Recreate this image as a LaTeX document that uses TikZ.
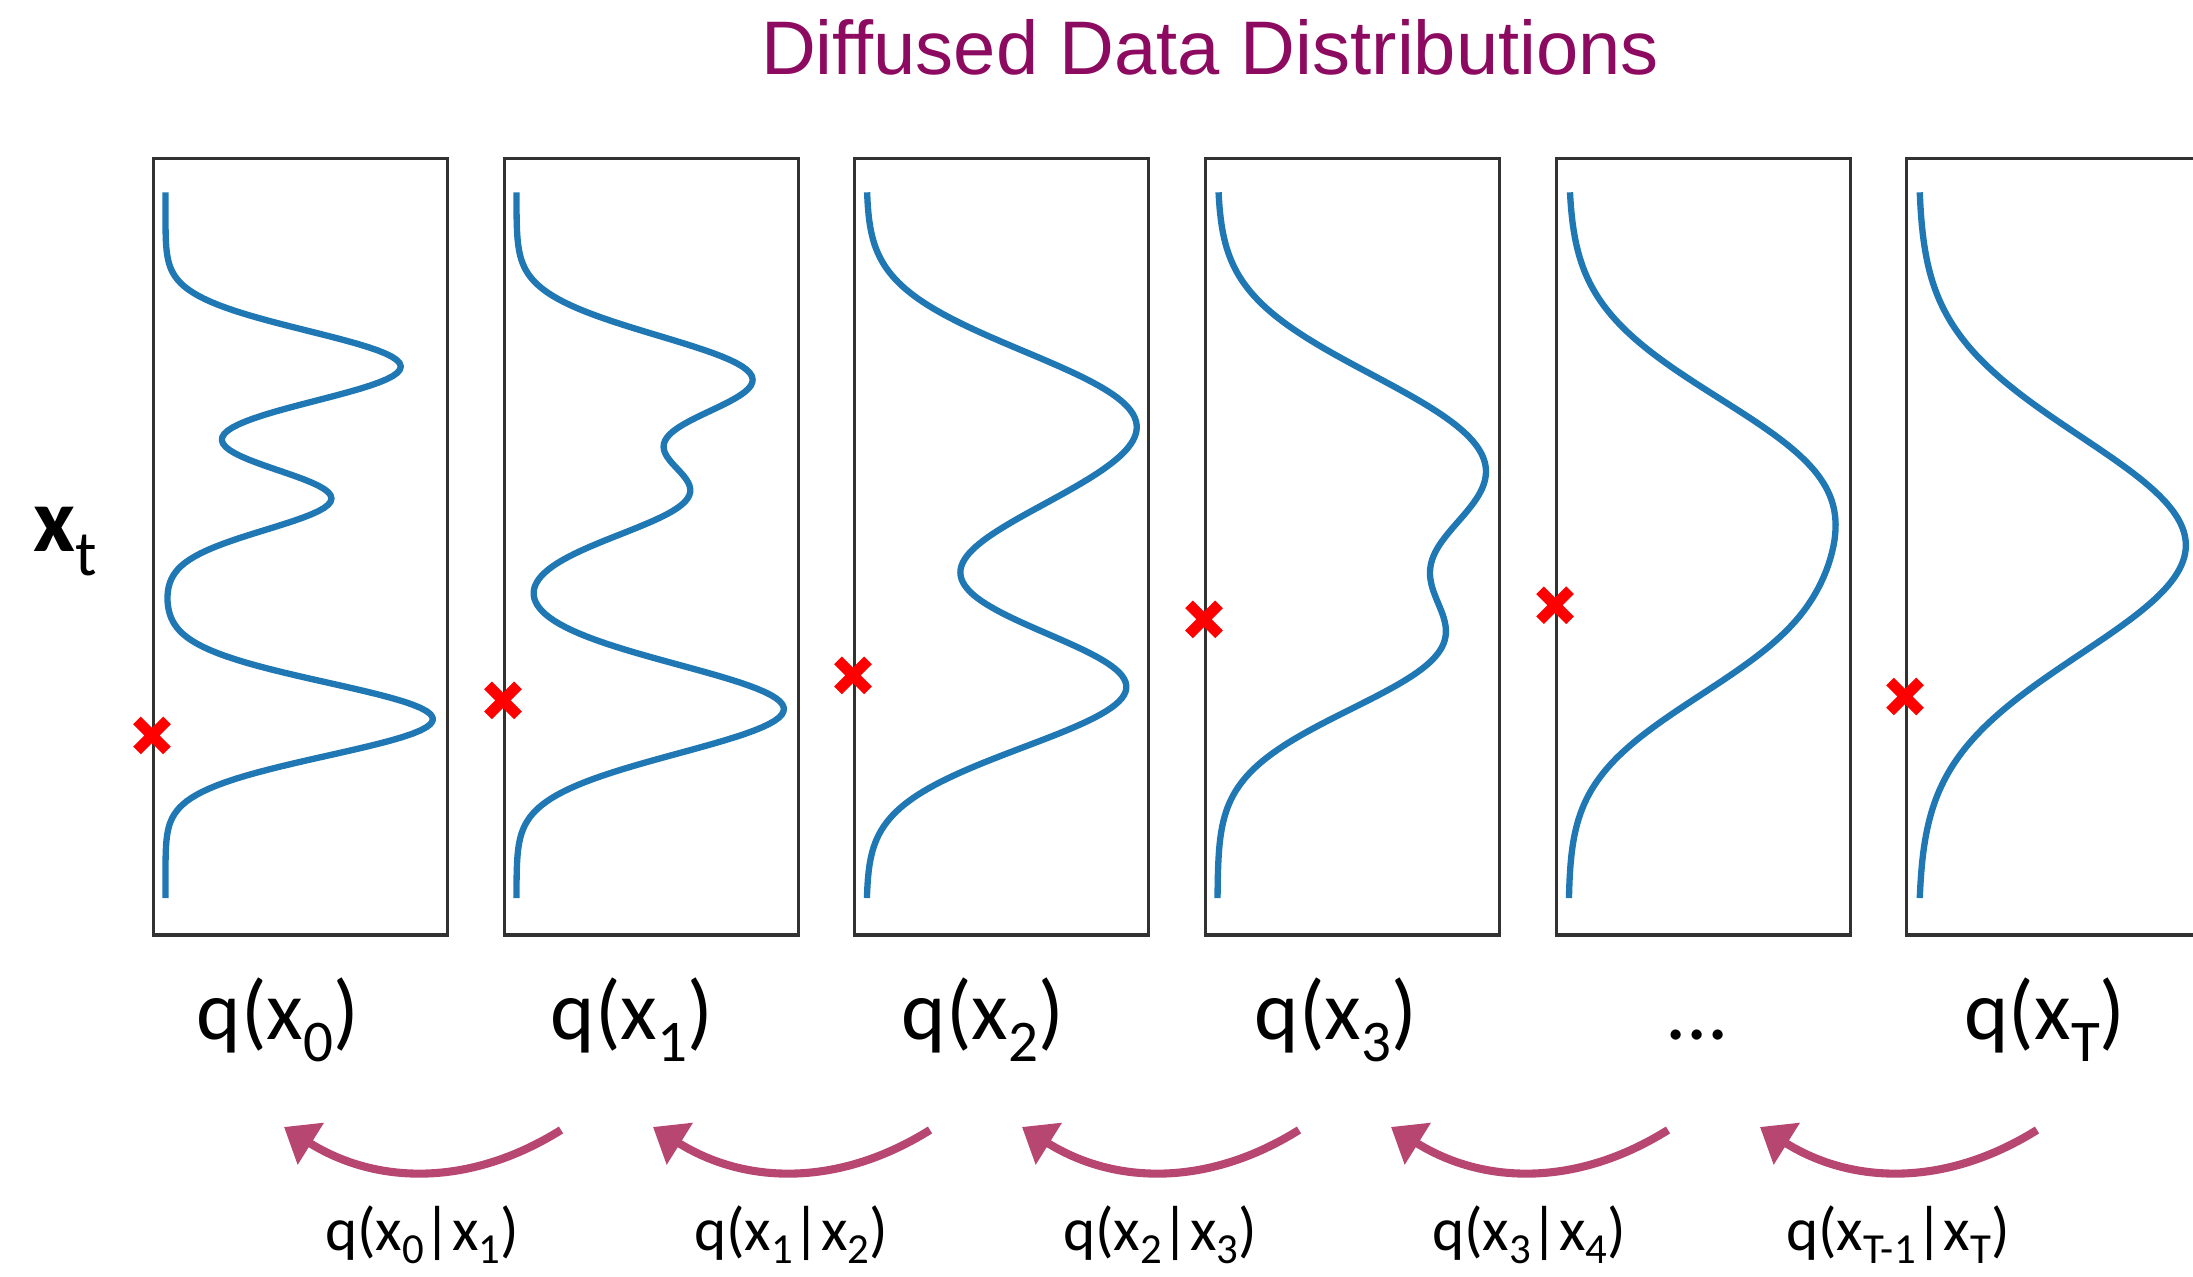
\documentclass[tikz,border=0pt]{standalone}
\usepackage{fontspec}
\setmainfont{Carlito}
\newfontfamily\titlefont{Liberation Sans}
\usepackage{graphicx}
\usetikzlibrary{arrows.meta, positioning, calc}

\definecolor{curveblue}{HTML}{1F77B4}
\definecolor{titlepurple}{RGB}{140,10,95}
\definecolor{arrowpink}{RGB}{183,70,113}
\definecolor{boxgray}{RGB}{50,50,50}

\newcommand{\lsub}[1]{\raisebox{-0.26em}{\scalebox{0.7}{#1}}}
\newcommand{\csub}[1]{\raisebox{-0.2em}{\scalebox{0.7}{#1}}}

\begin{document}
\begin{tikzpicture}[x=0.01cm, y=-0.01cm,
    panel/.style={draw=boxgray, line width=0.9pt, minimum width=2.94cm, minimum height=7.76cm,
        inner sep=0pt, anchor=north west},
    inpanel/.style={shift={(#1.north west)}, x=2.94cm, y=-7.76cm},
    density/.style={curveblue, line width=1.8pt, line join=round},
    redx/.style={red, line width=3.1pt},
    dist/.style={font=\fontsize{24}{28}\selectfont, anchor=base, inner sep=0pt},
    cond/.style={font=\fontsize{17.4}{20}\selectfont, anchor=base, inner sep=0pt},
    back/.style={arrowpink, line width=2.3pt, -{Triangle[length=9pt, width=13.5pt]}},
    declare function={gs(\t,\m,\s)=exp(-min(9,0.5*((\t-\m)/\s)*((\t-\m)/\s)));}]
    \useasboundingbox (0,0) rectangle (2193,1277);
    \clip (0,0) rectangle (2193,1277);

    % title
    \node[font=\titlefont\fontsize{21.6}{26}\selectfont, text=titlepurple, anchor=base] (title)
        at (1210,75) {Diffused Data Distributions};
    \node[font=\fontsize{26}{30}\selectfont, anchor=base west, inner sep=0pt] (xt) at (33,552)
        {\textbf{x}\lsub{t}};

    % panels
    \foreach \i/\xl in {0/152, 1/503, 2/853, 3/1204, 4/1555, 5/1905}
        \node[panel] (p\i) at (\xl,157) {};

    % densities
    \begin{scope}[inpanel=p0]
        \draw[density] plot[domain=0.0455:0.9545, samples=220, variable=\t]
            ({0.0455+0.909*(0.88*gs(\t,0.27,0.046)+0.62*gs(\t,0.44,0.04)+gs(\t,0.724,0.047))}, \t);
    \end{scope}
    \begin{scope}[inpanel=p1]
        \draw[density] plot[domain=0.0455:0.9545, samples=220, variable=\t]
            ({0.0455+0.909*(0.873*gs(\t,0.285,0.055)+0.626*gs(\t,0.435,0.052)+gs(\t,0.711,0.057))}, \t);
    \end{scope}
    \begin{scope}[inpanel=p2]
        \draw[density] plot[domain=0.0455:0.9545, samples=220, variable=\t]
            ({0.0455+0.909*(0.87*gs(\t,0.325,0.082)+0.37*gs(\t,0.44,0.075)+0.97*gs(\t,0.683,0.077))}, \t);
    \end{scope}
    \begin{scope}[inpanel=p3]
        \draw[density] plot[domain=0.0455:0.9545, samples=220, variable=\t]
            ({0.0455+0.909*(0.85*gs(\t,0.37,0.1)+0.244*gs(\t,0.46,0.07)+0.8*gs(\t,0.628,0.085))}, \t);
    \end{scope}
    \begin{scope}[inpanel=p4]
        \draw[density] plot[domain=0.0455:0.9545, samples=220, variable=\t]
            ({0.0455+0.909*(0.88*gs(\t,0.425,0.12)+0.55*gs(\t,0.62,0.1))}, \t);
    \end{scope}
    \begin{scope}[inpanel=p5]
        \draw[density] plot[domain=0.0455:0.9545, samples=220, variable=\t]
            ({0.0455+0.909*gs(\t,0.5,0.14)}, \t);
    \end{scope}

    % samples on the x_t axis
    \foreach \i/\ty in {0/0.742, 1/0.697, 2/0.665, 3/0.593, 4/0.575, 5/0.692} {
        \coordinate (x\i) at ($(p\i.north west)!\ty!(p\i.south west)$);
        \draw[redx] ([shift={(-15,-15)}]x\i) -- ([shift={(15,15)}]x\i)
                    ([shift={(-15,15)}]x\i) -- ([shift={(15,-15)}]x\i);
    }

    % marginals
    \foreach \i/\xc/\txt in {0/278/{q(x\lsub{0})}, 1/632/{q(x\lsub{1})}, 2/983/{q(x\lsub{2})},
                             3/1336/{q(x\lsub{3})}, 4/1697/{...}, 5/2045/{q(x\lsub{T})}}
        \node[dist] (l\i) at (\xc,1040) {\txt};

    % reverse conditionals
    \foreach \i/\txt in {0/{q(x\csub{0}|x\csub{1})}, 1/{q(x\csub{1}|x\csub{2})}, 2/{q(x\csub{2}|x\csub{3})},
                         3/{q(x\csub{3}|x\csub{4})}, 4/{q(x\csub{T-1}|x\csub{T})}} {
        \coordinate (s\i) at (561+369*\i,1130);
        \coordinate (e\i) at (284+369*\i,1127);
        \draw[back] (s\i) to[out=212, in=-32] (e\i);
        \node[cond] (c\i) at (422+369*\i,1251) {\txt};
    }
\end{tikzpicture}
\end{document}
